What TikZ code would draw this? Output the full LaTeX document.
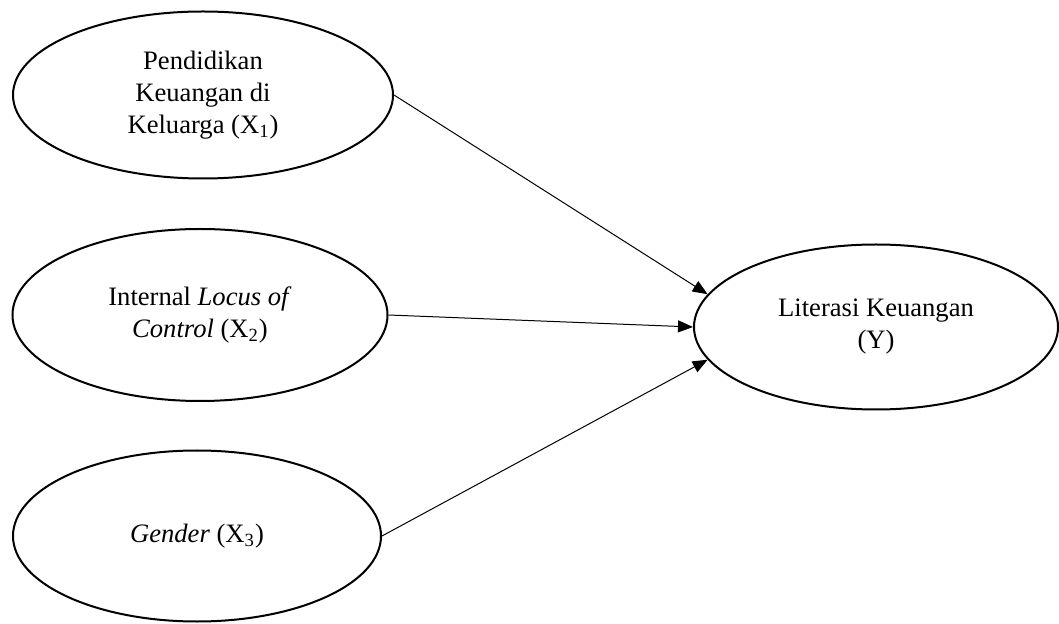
\documentclass[tikz,border=0pt]{standalone}
\usepackage{fontspec}
\setmainfont{Liberation Serif}
\usetikzlibrary{shapes.geometric,arrows.meta}

\begin{document}
\begin{tikzpicture}[x=0.5pt, y=-0.5pt,
    var/.style={draw, ellipse, line width=1pt, inner sep=0pt, align=center,
        font=\fontsize{13.3}{16}\selectfont},
    ->, >={Triangle[length=7.5pt,width=6pt]}, line width=0.5pt]
    \useasboundingbox (0,0) rectangle (1059,624);
    \node[var, minimum width=190pt, minimum height=83.5pt] (x1) at (203,95) {Pendidikan\\Keuangan di\\Keluarga (X\textsubscript{1})};
    \node[var, minimum width=187.5pt, minimum height=86pt] (x2) at (200,315) {Internal \textit{Locus of}\\\textit{Control} (X\textsubscript{2})};
    \node[var, minimum width=184pt, minimum height=85.5pt] (x3) at (197,536) {\textit{Gender} (X\textsubscript{3})};
    \node[var, minimum width=182pt, minimum height=82.5pt] (y) at (876,327) {Literasi Keuangan\\(Y)};
    \draw (x1.east) to (y.169);
    \draw (x2.east) to (y.west);
    \draw (x3.east) to (y.191);
\end{tikzpicture}
\end{document}
